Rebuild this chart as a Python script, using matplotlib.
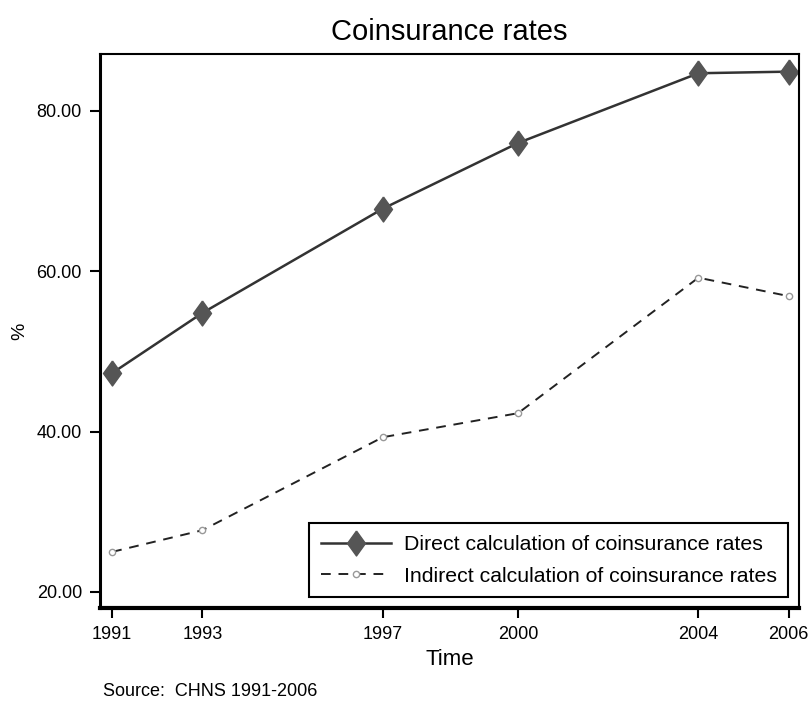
import matplotlib
matplotlib.use("Agg")
import matplotlib.pyplot as plt
from matplotlib import font_manager as fm

names = {f.name for f in fm.fontManager.ttflist}
fam = ['Liberation Sans Narrow'] if 'Liberation Sans Narrow' in names else ['Liberation Sans']
plt.rcParams['font.family'] = fam + ['DejaVu Sans']

years = [1991, 1993, 1997, 2000, 2004, 2006]
direct = [47.3, 54.8, 67.8, 76.0, 84.7, 84.9]
indirect = [25.0, 27.7, 39.3, 42.3, 59.2, 56.9]
yticks = [20, 40, 60, 80]
ylabels = ["20.00", "40.00", "60.00", "80.00"]

fig = plt.figure(figsize=(8.09, 7.02), dpi=100)
ax = fig.add_axes([100/809, 94/702, 699/809, 554/702])

diamond = [(0, 1), (0.72, 0), (0, -1), (-0.72, 0), (0, 1)]
ax.plot(years, direct, '-', color='#333333', lw=1.8, marker=diamond, ms=18,
        mfc='#555555', mec='#555555', label='Direct calculation of coinsurance rates')
ax.plot(years, indirect, '--', color='#222222', lw=1.4, dashes=(5, 4), marker='o', ms=4.5,
        mfc='white', mec='#999999', mew=1.0, label='Indirect calculation of coinsurance rates')

ax.set_xlim(1990.73, 2006.23)
ax.set_ylim(18.0, 87.1)
ax.set_xticks(years)
ax.set_xticklabels([str(y) for y in years], fontsize=13)
ax.set_yticks(yticks)
ax.set_yticklabels(ylabels, fontsize=13)
ax.tick_params(direction='out', length=7, width=1.5, colors='black', pad=6)

for s in ['top', 'right']:
    ax.spines[s].set_linewidth(1.5)
ax.spines['left'].set_linewidth(2.2)
ax.spines['bottom'].set_linewidth(3)

ax.set_title('Coinsurance rates', fontsize=21, pad=10)
ax.set_xlabel('Time', fontsize=16, labelpad=4)
ax.set_ylabel('%', fontsize=14, labelpad=6)

leg = ax.legend(loc='lower right', fontsize=15.3, frameon=True, fancybox=False,
                edgecolor='black', framealpha=1, handlelength=3.3,
                borderaxespad=0.5, labelspacing=0.6, borderpad=0.55, handletextpad=0.6)
leg.get_frame().set_linewidth(1.5)

fig.text(103/809, 1 - 692/702, 'Source:  CHNS 1991-2006', fontsize=13, va='center')

fig.savefig('out.png', dpi=100)
